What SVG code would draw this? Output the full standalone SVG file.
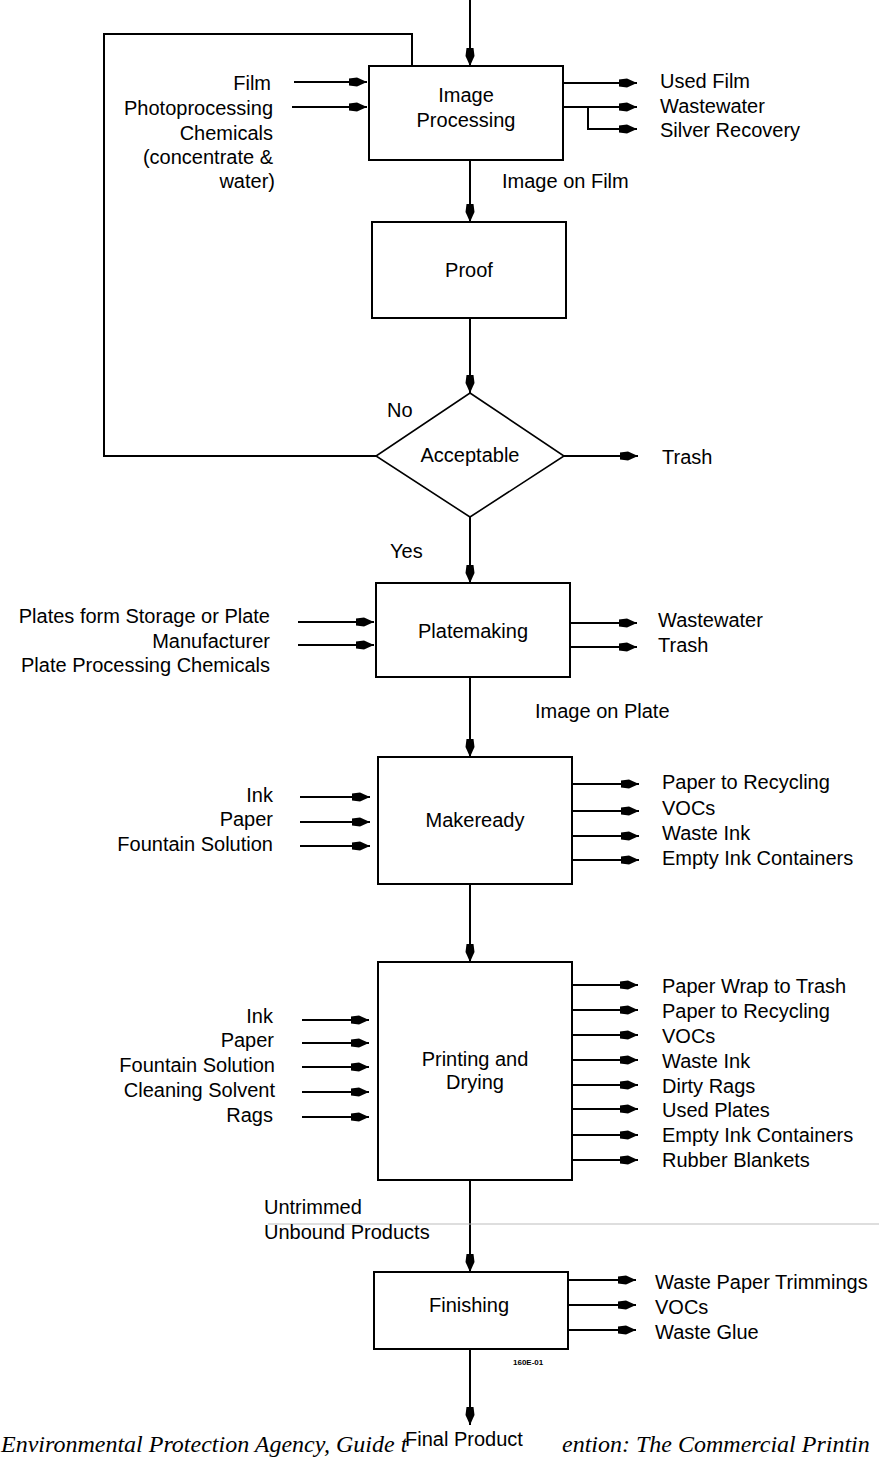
<svg xmlns="http://www.w3.org/2000/svg" width="879" height="1458" viewBox="0 0 879 1458">
<style>
.box{fill:#fff;stroke:#000;stroke-width:2}
.dia{fill:#fff;stroke:#000;stroke-width:1.6}
.ln{stroke:#000;stroke-width:2;fill:none}
.a{marker-end:url(#ah)}
.t{font-family:"Liberation Sans",Arial,sans-serif;font-size:20px;fill:#000}
.r{text-anchor:end}
.c{text-anchor:middle}
.cap{font-family:"Liberation Serif","Times New Roman",serif;font-style:italic;font-size:24px;fill:#000}
</style>
<defs>
<marker id="ah" markerUnits="userSpaceOnUse" markerWidth="22" markerHeight="12" viewBox="-20 -6 22 12" refX="0" refY="0" orient="auto">
<path d="M0,0 L-10,-4.5 L-18,-3.5 L-18,3.5 L-10,4.5 Z" fill="#000"/>
</marker>
</defs>
<rect width="879" height="1458" fill="#fff"/>

<g id="connectors">
<line class="ln a" x1="470" y1="0" x2="470" y2="66"/>
<line class="ln a" x1="470" y1="160" x2="470" y2="222"/>
<line class="ln a" x1="470" y1="318" x2="470" y2="393"/>
<line class="ln a" x1="470" y1="517" x2="470" y2="583"/>
<line class="ln a" x1="470" y1="677" x2="470" y2="757"/>
<line class="ln a" x1="470" y1="884" x2="470" y2="962"/>
<line class="ln a" x1="470" y1="1180" x2="470" y2="1272"/>
<line class="ln a" x1="470" y1="1349" x2="470" y2="1425"/>
<polyline class="ln" points="376,456 104,456 104,34 412,34 412,66"/>
<line class="ln a" x1="294" y1="82" x2="367" y2="82"/>
<line class="ln a" x1="292" y1="107" x2="367" y2="107"/>
<line class="ln a" x1="563" y1="83" x2="637" y2="83"/>
<line class="ln a" x1="563" y1="107" x2="637" y2="107"/>
<polyline class="ln a" points="588,107 588,129 637,129"/>
<line class="ln a" x1="564" y1="456" x2="638" y2="456"/>
<line class="ln a" x1="298" y1="622" x2="374" y2="622"/>
<line class="ln a" x1="298" y1="645" x2="374" y2="645"/>
<line class="ln a" x1="570" y1="623" x2="637" y2="623"/>
<line class="ln a" x1="570" y1="647" x2="637" y2="647"/>
<line class="ln a" x1="300" y1="797" x2="370" y2="797"/>
<line class="ln a" x1="300" y1="822" x2="370" y2="822"/>
<line class="ln a" x1="300" y1="846" x2="370" y2="846"/>
<line class="ln a" x1="572" y1="784" x2="639" y2="784"/>
<line class="ln a" x1="572" y1="811" x2="639" y2="811"/>
<line class="ln a" x1="572" y1="836" x2="639" y2="836"/>
<line class="ln a" x1="572" y1="860" x2="639" y2="860"/>
<line class="ln a" x1="302" y1="1020" x2="369" y2="1020"/>
<line class="ln a" x1="302" y1="1043" x2="369" y2="1043"/>
<line class="ln a" x1="302" y1="1067" x2="369" y2="1067"/>
<line class="ln a" x1="302" y1="1092" x2="369" y2="1092"/>
<line class="ln a" x1="302" y1="1117" x2="369" y2="1117"/>
<line class="ln a" x1="572" y1="985" x2="638" y2="985"/>
<line class="ln a" x1="572" y1="1010" x2="638" y2="1010"/>
<line class="ln a" x1="572" y1="1035" x2="638" y2="1035"/>
<line class="ln a" x1="572" y1="1060" x2="638" y2="1060"/>
<line class="ln a" x1="572" y1="1085" x2="638" y2="1085"/>
<line class="ln a" x1="572" y1="1109" x2="638" y2="1109"/>
<line class="ln a" x1="572" y1="1135" x2="638" y2="1135"/>
<line class="ln a" x1="572" y1="1160" x2="638" y2="1160"/>
<line class="ln a" x1="568" y1="1280" x2="636" y2="1280"/>
<line class="ln a" x1="568" y1="1305" x2="636" y2="1305"/>
<line class="ln a" x1="568" y1="1330" x2="636" y2="1330"/>
<line x1="268" y1="1224" x2="879" y2="1224" stroke="#bdbdbd" stroke-width="1"/>
</g>

<g id="image-processing">
<rect class="box" x="369" y="66" width="194" height="94"/>
<text class="t c" x="466" y="102">Image</text>
<text class="t c" x="466" y="127">Processing</text>
</g>
<g id="image-processing-inputs">
<text class="t r" x="271" y="90">Film</text>
<text class="t r" x="273" y="115">Photoprocessing</text>
<text class="t r" x="273" y="140">Chemicals</text>
<text class="t r" x="273" y="164">(concentrate &amp;</text>
<text class="t r" x="275" y="188">water)</text>
</g>
<g id="image-processing-outputs">
<text class="t" x="660" y="88">Used Film</text>
<text class="t" x="660" y="113">Wastewater</text>
<text class="t" x="660" y="137">Silver Recovery</text>
</g>
<g id="label-image-on-film"><text class="t" x="502" y="188">Image on Film</text></g>

<g id="proof">
<rect class="box" x="372" y="222" width="194" height="96"/>
<text class="t c" x="469" y="277">Proof</text>
</g>

<g id="acceptable">
<polygon class="dia" points="470,393 564,456 470,517 376,456"/>
<text class="t c" x="470" y="462">Acceptable</text>
</g>
<g id="label-no"><text class="t" x="387" y="417">No</text></g>
<g id="label-yes"><text class="t" x="390" y="558">Yes</text></g>
<g id="trash-1"><text class="t" x="662" y="464">Trash</text></g>

<g id="platemaking">
<rect class="box" x="376" y="583" width="194" height="94"/>
<text class="t c" x="473" y="638">Platemaking</text>
</g>
<g id="platemaking-inputs">
<text class="t r" x="270" y="623">Plates form Storage or Plate</text>
<text class="t r" x="270" y="648">Manufacturer</text>
<text class="t r" x="270" y="672">Plate Processing Chemicals</text>
</g>
<g id="platemaking-outputs">
<text class="t" x="658" y="627">Wastewater</text>
<text class="t" x="658" y="652">Trash</text>
</g>
<g id="label-image-on-plate"><text class="t" x="535" y="718">Image on Plate</text></g>

<g id="makeready">
<rect class="box" x="378" y="757" width="194" height="127"/>
<text class="t c" x="475" y="827">Makeready</text>
</g>
<g id="makeready-inputs">
<text class="t r" x="273" y="802">Ink</text>
<text class="t r" x="273" y="826">Paper</text>
<text class="t r" x="273" y="851">Fountain Solution</text>
</g>
<g id="makeready-outputs">
<text class="t" x="662" y="789">Paper to Recycling</text>
<text class="t" x="662" y="815">VOCs</text>
<text class="t" x="662" y="840">Waste Ink</text>
<text class="t" x="662" y="865">Empty Ink Containers</text>
</g>

<g id="printing">
<rect class="box" x="378" y="962" width="194" height="218"/>
<text class="t c" x="475" y="1066">Printing and</text>
<text class="t c" x="475" y="1089">Drying</text>
</g>
<g id="printing-inputs">
<text class="t r" x="273" y="1023">Ink</text>
<text class="t r" x="274" y="1047">Paper</text>
<text class="t r" x="275" y="1072">Fountain Solution</text>
<text class="t r" x="275" y="1097">Cleaning Solvent</text>
<text class="t r" x="273" y="1122">Rags</text>
</g>
<g id="printing-outputs">
<text class="t" x="662" y="993">Paper Wrap to Trash</text>
<text class="t" x="662" y="1018">Paper to Recycling</text>
<text class="t" x="662" y="1043">VOCs</text>
<text class="t" x="662" y="1068">Waste Ink</text>
<text class="t" x="662" y="1093">Dirty Rags</text>
<text class="t" x="662" y="1117">Used Plates</text>
<text class="t" x="662" y="1142">Empty Ink Containers</text>
<text class="t" x="662" y="1167">Rubber Blankets</text>
</g>
<g id="label-untrimmed">
<text class="t" x="264" y="1214">Untrimmed</text>
<text class="t" x="264" y="1239">Unbound Products</text>
</g>

<g id="finishing">
<rect class="box" x="374" y="1272" width="194" height="77"/>
<text class="t c" x="469" y="1312">Finishing</text>
</g>
<g id="finishing-outputs">
<text class="t" x="655" y="1289">Waste Paper Trimmings</text>
<text class="t" x="655" y="1314">VOCs</text>
<text class="t" x="655" y="1339">Waste Glue</text>
</g>
<g id="code"><text x="513" y="1365" font-family="Liberation Sans,Arial,sans-serif" font-size="8" font-weight="bold">160E-01</text></g>

<g id="caption">
<text class="cap" x="1" y="1452">Environmental Protection Agency, Guide t</text>
<text class="cap" x="562" y="1452">ention: The Commercial Printin</text>
</g>
<g id="final-product">
<text class="t" x="405" y="1446">Final Product</text>
</g>
</svg>
